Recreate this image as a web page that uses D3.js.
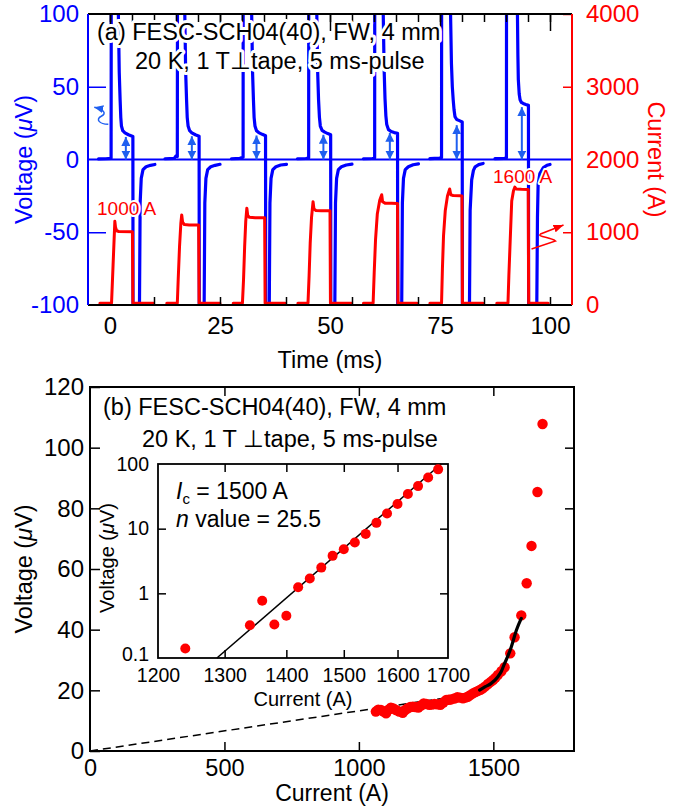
<!DOCTYPE html>
<html><head><meta charset="utf-8">
<script src="https://cdn.jsdelivr.net/npm/d3@7"></script>
<style>
body{margin:0;background:#fff;}
svg{display:block;font-family:"Liberation Sans",Arial,Helvetica,sans-serif;}
</style></head><body>
<svg id="chart" width="689" height="807"></svg>
<script>
// ---------------- DATA: panel (a) ----------------
const timeTicks = [0, 25, 50, 75, 100];
const voltageTicks = [-100, -50, 0, 50, 100];
const currentTicks = [0, 1000, 2000, 3000, 4000];

// voltage traces [time ms, voltage uV] (values beyond +-100 are off scale)
const voltageTraces = [
 [[-2.6,0.4],[-1.0,0.5],[0.25,0.8],[0.35,300],[1.75,300],[1.9,100],[2.1,60],[2.3,41],[2.45,29],[2.6,23],[2.9,19.8],[3.4,18.3],[4.2,17],[5.2,15.8],[5.3,-300],[6.6,-300],[6.7,-100],[6.85,-30],[7.1,-13],[7.5,-7],[8.2,-5],[9.2,-4],[10.2,-3.4]],
 [[12.5,0.5],[14.6,0.8],[15.0,2.5],[15.3,2],[15.4,300],[16.85,300],[17.0,100],[17.2,60],[17.4,41],[17.55,29],[17.75,23],[18.1,19.8],[18.6,18.3],[19.4,17],[20.25,16],[20.35,-300],[21.3,-300],[21.4,-100],[21.55,-30],[21.8,-13],[22.2,-7],[22.9,-5],[23.9,-4],[25,-3.3]],
 [[27.6,0.5],[29.5,0.8],[30.25,1.5],[30.3,300],[32.05,300],[32.2,100],[32.4,60],[32.6,41],[32.75,29],[32.95,23],[33.3,19.8],[33.8,18.5],[34.6,17.3],[35.35,16.3],[35.45,-300],[36.1,-300],[36.2,-100],[36.35,-30],[36.6,-13],[37,-7],[37.7,-5],[38.8,-3.8],[40.1,-3.3]],
 [[42.6,0.5],[44.5,0.7],[45.15,1],[45.2,300],[46.85,300],[47,100],[47.2,60],[47.4,41],[47.6,29],[47.8,23],[48.2,20],[48.8,18.8],[49.5,17.8],[50.15,17],[50.25,-300],[51,-300],[51.1,-100],[51.25,-30],[51.5,-13],[51.9,-7],[52.6,-5],[53.7,-3.8],[55,-3.2]],
 [[57.6,0.5],[59.6,0.7],[60.15,1],[60.2,300],[61.95,300],[62.1,100],[62.3,62],[62.5,42],[62.7,30],[62.9,24],[63.3,20.5],[63.9,19.2],[64.6,18.5],[65.35,18],[65.45,-300],[66.2,-300],[66.3,-100],[66.45,-30],[66.7,-13],[67.1,-7],[67.8,-5],[68.9,-3.6],[70.1,-3]],
 [[72.7,0.6],[74.8,1],[75.35,1.2],[75.4,300],[77.25,300],[77.4,100],[77.6,66],[77.8,50],[78,41],[78.2,34],[78.4,29.5],[78.8,27.5],[79.4,26.7],[80.05,25.8],[80.15,-300],[81.6,-300],[81.7,-100],[81.85,-35],[82.2,-14],[82.6,-7.5],[83,-5],[83.8,-3.5],[84.8,-2.7]],
 [[87.5,0.6],[89.6,0.8],[90.1,1],[90.15,300],[92.45,300],[92.6,100],[92.7,72],[92.8,55],[93,45],[93.2,41],[93.5,39.2],[93.9,38.5],[94.5,37.8],[95.1,37.2],[95.2,-300],[96.9,-300],[97,-100],[97.15,-40],[97.3,-17],[97.7,-9.6],[98.5,-5.5],[99.3,-4],[100,-3.4]]
];

// current traces [time ms, current A]
const currentTraces = [
 [[-2.3,25],[0.35,25],[0.7,550],[1.1,1150],[1.25,1070],[1.5,1020],[2,1010],[5.1,1008],[5.2,25],[9.9,25]],
 [[12.9,25],[15.3,25],[15.5,350],[15.8,800],[16.1,1120],[16.3,1237],[16.5,1140],[16.9,1105],[18,1100],[20.15,1098],[20.25,25],[25,25]],
 [[28,25],[30.1,25],[30.35,350],[30.6,800],[30.85,1150],[31.1,1330],[31.3,1230],[31.7,1205],[33,1200],[35.15,1198],[35.25,25],[39.8,25]],
 [[42.7,25],[45,25],[45.25,400],[45.5,850],[45.8,1200],[46.15,1420],[46.35,1320],[46.8,1300],[48,1296],[50.0,1295],[50.1,25],[54.9,25]],
 [[57.6,25],[59.8,25],[60.05,450],[60.35,900],[60.75,1250],[61.3,1440],[61.75,1515],[61.95,1420],[62.5,1400],[64,1398],[65.35,1395],[65.45,25],[69.8,25]],
 [[72.7,25],[75.35,25],[75.55,500],[75.8,950],[76.2,1300],[76.7,1500],[77.2,1595],[77.45,1515],[78,1505],[79.5,1503],[80,1500],[80.1,25],[84.8,25]],
 [[87.9,25],[90.45,25],[90.65,400],[90.9,800],[91.3,1430],[91.7,1570],[92,1620],[92.3,1595],[93.5,1590],[95.05,1588],[95.15,25],[99.6,25]]
];

// double arrows marking the plateau voltage of each pulse
const arrowTimes = [3.6, 18.6, 33.3, 48.5, 63.6, 78.8, 93.6];
const arrowVoltages = [15.5, 16, 16.5, 17, 18.3, 23.6, 36];

// ---------------- DATA: panel (b) ----------------
const ivXTicks = [0, 500, 1000, 1500];
const ivYTicks = [0, 20, 40, 60, 80, 100, 120];
const ivCurrent = [1063,1072,1082,1092,1101,1110,1119,1128,1138,1150,1163,1172,1182,1191,1200,1210,1221,1231,1241,1251,1262,1271,1281,1292,1303,1314,1325,1334,1343,1355,1366,1376,1387,1396,1405,1414,1424,1433,1443,1452,1461,1470,1480,1490,1499,1508,1517,1530,1542,1563,1579,1604,1624,1642,1664,1683];
const ivVoltage = [13.0,13.6,13.5,13.0,12.4,13.6,14.3,14.0,13.5,13.0,12.6,13.5,14.1,14.5,14.6,14.5,14.3,15.0,15.7,15.5,15.2,15.3,15.5,15.4,15.2,16.0,16.8,16.9,17.0,17.3,17.7,17.6,17.4,17.6,17.9,18.4,19.0,19.4,19.8,20.2,20.7,21.3,22.1,22.8,23.4,24.2,25.1,26.3,27.6,32.2,37.5,44.7,55.3,67.6,85.4,107.8];
const offsetLine = [[0, 0], [1450, 19.2]];
const fitCurve = [[1449,20.1],[1470,21.2],[1492,22.3],[1517,24.5],[1530,26.3],[1542,28.9],[1555,31.5],[1567,34.4],[1586,39.9],[1604,43.7]];

const insetXTicks = [1200, 1300, 1400, 1500, 1600, 1700];
const insetYTicks = [0.1, 1, 10, 100];
const insetCurrent = [1240,1340,1360,1380,1400,1420,1440,1460,1480,1500,1520,1540,1560,1580,1600,1620,1640,1660,1680];
const insetVoltage = [0.14,0.32,0.77,0.33,0.45,1.24,1.7,2.5,3.8,4.8,6.1,8.3,12.3,17.2,24,34.3,45.5,62,82.6];
const insetFit = [[1288, 0.1], [1686, 100]];

// ---------------- DRAWING ----------------
const BLUE = "#0000ff", RED = "#ff0000", ABLUE = "#1f5ff0", BLACK = "#000";
const svg = d3.select("#chart");
const defs = svg.append("defs");

function marker(id, color, w, l) {
  defs.append("marker").attr("id", id).attr("viewBox", `0 ${-w} ${l} ${2*w}`)
    .attr("refX", l).attr("refY", 0).attr("markerUnits", "userSpaceOnUse")
    .attr("markerWidth", l).attr("markerHeight", 2*w).attr("orient", "auto-start-reverse")
    .append("path").attr("d", `M0,${-w}L${l},0L0,${w}Z`).attr("fill", color);
}
marker("mBlue", ABLUE, 4.5, 9);
marker("mCurlB", ABLUE, 4, 9);
marker("mCurlR", RED, 4, 10);

// ===== Panel (a) =====
const A = {l: 88, r: 572, t: 14, b: 305};
const xT = d3.scaleLinear().domain([-5, 105]).range([A.l, A.r]);
const yV = d3.scaleLinear().domain([-100, 100]).range([A.b, A.t]);
const yI = d3.scaleLinear().domain([0, 4000]).range([A.b, A.t]);

defs.append("clipPath").attr("id", "clipA").append("rect")
  .attr("x", A.l).attr("y", A.t).attr("width", A.r - A.l).attr("height", A.b - A.t);

const ga = svg.append("g");
const clipA = ga.append("g").attr("clip-path", "url(#clipA)");
clipA.append("line").attr("x1", A.l).attr("x2", A.r).attr("y1", yV(0)).attr("y2", yV(0))
  .attr("stroke", BLUE).attr("stroke-width", 2);

const lineV = d3.line().x(d => xT(d[0])).y(d => yV(d[1]));
const lineI = d3.line().x(d => xT(d[0])).y(d => yI(d[1]));
clipA.selectAll(".vt").data(voltageTraces).join("path").attr("class", "vt")
  .attr("d", lineV).attr("fill", "none").attr("stroke", BLUE).attr("stroke-width", 3.2)
  .attr("stroke-linejoin", "round").attr("stroke-linecap", "round");
clipA.selectAll(".it").data(currentTraces).join("path").attr("class", "it")
  .attr("d", lineI).attr("fill", "none").attr("stroke", RED).attr("stroke-width", 3)
  .attr("stroke-linejoin", "round").attr("stroke-linecap", "round");

// double arrows
ga.selectAll(".da").data(arrowTimes).join("line").attr("class", "da")
  .attr("x1", d => xT(d)).attr("x2", d => xT(d))
  .attr("y1", yV(0)).attr("y2", (d, i) => yV(arrowVoltages[i]))
  .attr("stroke", ABLUE).attr("stroke-width", 2)
  .attr("marker-start", "url(#mBlue)").attr("marker-end", "url(#mBlue)");

// axes (a)
function noDomain(g) { g.select(".domain").remove(); }
ga.append("g").attr("transform", `translate(0,${A.t})`)
  .call(d3.axisTop(xT).tickValues(d3.range(0, 101, 5)).tickSize(-8).tickFormat(""))
  .call(noDomain).selectAll("line").attr("stroke", BLACK).attr("stroke-width", 1.5);
ga.append("g").attr("transform", `translate(0,${A.t})`)
  .call(d3.axisTop(xT).tickValues(timeTicks).tickSize(-17).tickFormat(""))
  .call(noDomain).selectAll("line").attr("stroke", BLACK).attr("stroke-width", 1.5);
ga.append("g").attr("transform", `translate(0,${A.b})`)
  .call(d3.axisBottom(xT).tickValues(d3.range(10, 101, 15)).tickSize(-8).tickFormat(""))
  .call(noDomain).selectAll("line").attr("stroke", BLACK).attr("stroke-width", 1.5);
const axB = ga.append("g").attr("transform", `translate(0,${A.b})`)
  .call(d3.axisBottom(xT).tickValues(timeTicks).tickSize(0).tickPadding(12).tickFormat(d => String(d)))
  .call(noDomain);
axB.selectAll("text").attr("font-size", 24).attr("fill", BLACK).attr("font-family", null);

ga.append("g").attr("transform", `translate(${A.l},0)`)
  .call(d3.axisLeft(yV).tickValues([-50, 50]).tickSize(-18).tickFormat(""))
  .call(noDomain).selectAll("line").attr("stroke", BLUE).attr("stroke-width", 1.5);
const axL = ga.append("g").attr("transform", `translate(${A.l},0)`)
  .call(d3.axisLeft(yV).tickValues(voltageTicks).tickSize(0).tickPadding(9).tickFormat(d => String(d)))
  .call(noDomain);
axL.selectAll("text").attr("font-size", 24).attr("fill", BLUE).attr("font-family", null);

ga.append("g").attr("transform", `translate(${A.r},0)`)
  .call(d3.axisRight(yI).tickValues([1000, 3000, 4000]).tickSize(-9).tickFormat(""))
  .call(noDomain).selectAll("line").attr("stroke", RED).attr("stroke-width", 1.5);
const axR = ga.append("g").attr("transform", `translate(${A.r},0)`)
  .call(d3.axisRight(yI).tickValues(currentTicks).tickSize(0).tickPadding(14).tickFormat(d => String(d)))
  .call(noDomain);
axR.selectAll("text").attr("font-size", 24).attr("fill", RED).attr("font-family", null);

// borders
ga.append("line").attr("x1", A.l).attr("x2", A.r).attr("y1", A.t).attr("y2", A.t).attr("stroke", BLACK).attr("stroke-width", 2);
ga.append("line").attr("x1", A.l).attr("x2", A.r).attr("y1", A.b).attr("y2", A.b).attr("stroke", BLACK).attr("stroke-width", 2);
ga.append("line").attr("x1", A.l).attr("x2", A.l).attr("y1", A.t).attr("y2", A.b).attr("stroke", BLUE).attr("stroke-width", 2);
ga.append("line").attr("x1", A.r).attr("x2", A.r).attr("y1", A.t).attr("y2", A.b).attr("stroke", RED).attr("stroke-width", 2);

// curly annotation arrows
const bTip = [xT(-3.8), yV(36.6)];
ga.append("path").attr("transform", `translate(${bTip[0]},${bTip[1]})`)
  .attr("d", "M15,18 C6,18 2,13 8,10 C14,7 10,3 1,1")
  .attr("fill", "none").attr("stroke", ABLUE).attr("stroke-width", 1.5).attr("marker-end", "url(#mCurlB)");
const rTip = [xT(103.3), yI(1100)];
ga.append("path").attr("transform", `translate(${rTip[0]},${rTip[1]})`)
  .attr("d", "M-33,24 L-9,16 C-14,12 -28,12 -24,9 L-1,0")
  .attr("fill", "none").attr("stroke", RED).attr("stroke-width", 1.5).attr("marker-end", "url(#mCurlR)");

// text (a)
function halo(sel, w) { return sel.attr("stroke", "#fff").attr("stroke-width", w).attr("paint-order", "stroke").attr("stroke-linejoin", "round"); }
halo(ga.append("text").attr("x", 97).attr("y", 40).attr("font-size", 23.5).attr("fill", BLACK)
  .text("(a) FESC-SCH04(40), FW, 4 mm"), 6);
halo(ga.append("text").attr("x", 135).attr("y", 69).attr("font-size", 23.5).attr("fill", BLACK)
  .text("20 K, 1 T\u22A5tape, 5 ms-pulse"), 6);
halo(ga.append("text").attr("x", 97).attr("y", 215).attr("font-size", 19).attr("fill", RED).text("1000 A"), 4);
halo(ga.append("text").attr("x", 493).attr("y", 183).attr("font-size", 19).attr("fill", RED).text("1600 A"), 4);

ga.append("text").attr("x", 330).attr("y", 368).attr("text-anchor", "middle").attr("font-size", 23.5)
  .attr("fill", BLACK).text("Time (ms)");
const vlab = ga.append("text").attr("transform", `translate(32,${(A.t + A.b) / 2}) rotate(-90)`)
  .attr("text-anchor", "middle").attr("font-size", 23.5).attr("fill", BLUE);
vlab.append("tspan").text("Voltage (");
vlab.append("tspan").attr("font-style", "italic").text("\u03BC");
vlab.append("tspan").text("V)");
ga.append("text").attr("transform", `translate(648,${(A.t + A.b) / 2}) rotate(90)`)
  .attr("text-anchor", "middle").attr("font-size", 23.5).attr("fill", RED).text("Current (A)");

// ===== Panel (b) =====
const B = {l: 90, r: 574, t: 387, b: 751};
const xB = d3.scaleLinear().domain([0, 1800]).range([B.l, B.r]);
const yB = d3.scaleLinear().domain([0, 120]).range([B.b, B.t]);
const gb = svg.append("g");

gb.append("g").attr("transform", `translate(0,${B.b})`)
  .call(d3.axisBottom(xB).tickValues([500, 1000, 1500]).tickSize(-9).tickFormat(""))
  .call(noDomain).selectAll("line").attr("stroke", BLACK).attr("stroke-width", 1.5);
gb.append("g").attr("transform", `translate(0,${B.t})`)
  .call(d3.axisTop(xB).tickValues([500, 1000, 1500]).tickSize(-9).tickFormat(""))
  .call(noDomain).selectAll("line").attr("stroke", BLACK).attr("stroke-width", 1.5);
gb.append("g").attr("transform", `translate(${B.l},0)`)
  .call(d3.axisLeft(yB).tickValues(ivYTicks).tickSize(-10).tickFormat(""))
  .call(noDomain).selectAll("line").attr("stroke", BLACK).attr("stroke-width", 1.5);
gb.append("g").attr("transform", `translate(${B.r},0)`)
  .call(d3.axisRight(yB).tickValues([20, 40, 60, 80, 100]).tickSize(-9).tickFormat(""))
  .call(noDomain).selectAll("line").attr("stroke", BLACK).attr("stroke-width", 1.5);
const bxl = gb.append("g").attr("transform", `translate(0,${B.b})`)
  .call(d3.axisBottom(xB).tickValues(ivXTicks).tickSize(0).tickPadding(8).tickFormat(d => String(d)))
  .call(noDomain);
bxl.selectAll("text").attr("font-size", 23.5).attr("fill", BLACK).attr("font-family", null);
const byl = gb.append("g").attr("transform", `translate(${B.l},0)`)
  .call(d3.axisLeft(yB).tickValues(ivYTicks).tickSize(0).tickPadding(6).tickFormat(d => String(d)))
  .call(noDomain);
byl.selectAll("text").attr("font-size", 24).attr("fill", BLACK).attr("font-family", null);
gb.append("rect").attr("x", B.l).attr("y", B.t).attr("width", B.r - B.l).attr("height", B.b - B.t)
  .attr("fill", "none").attr("stroke", BLACK).attr("stroke-width", 2);

const lineB = d3.line().x(d => xB(d[0])).y(d => yB(d[1]));
gb.append("path").attr("d", lineB(offsetLine)).attr("fill", "none").attr("stroke", BLACK)
  .attr("stroke-width", 1.5).attr("stroke-dasharray", "8,5");
gb.selectAll(".ivp").data(ivCurrent).join("circle").attr("class", "ivp")
  .attr("cx", d => xB(d)).attr("cy", (d, i) => yB(ivVoltage[i])).attr("r", 5.2).attr("fill", RED);
gb.append("path").attr("d", lineB.curve(d3.curveMonotoneX)(fitCurve)).attr("fill", "none").attr("stroke", BLACK)
  .attr("stroke-width", 3.2).attr("stroke-linecap", "round");

gb.append("text").attr("x", 103).attr("y", 415).attr("font-size", 23.5).attr("fill", BLACK)
  .text("(b) FESC-SCH04(40), FW, 4 mm");
gb.append("text").attr("x", 142).attr("y", 447).attr("font-size", 23.5).attr("fill", BLACK)
  .text("20 K, 1 T \u22A5tape, 5 ms-pulse");
gb.append("text").attr("x", (B.l + B.r) / 2).attr("y", 801).attr("text-anchor", "middle")
  .attr("font-size", 23).attr("fill", BLACK).text("Current (A)");
const vlb = gb.append("text").attr("transform", `translate(32,${(B.t + B.b) / 2}) rotate(-90)`)
  .attr("text-anchor", "middle").attr("font-size", 23.5).attr("fill", BLACK);
vlb.append("tspan").text("Voltage (");
vlb.append("tspan").attr("font-style", "italic").text("\u03BC");
vlb.append("tspan").text("V)");

// ===== Inset =====
const C = {l: 158, r: 448, t: 464, b: 658};
const xC = d3.scaleLog().domain([1200, 1700]).range([C.l, C.r]);
const yC = d3.scaleLog().domain([0.1, 100]).range([C.b, C.t]);
const gc = svg.append("g");
gc.append("rect").attr("x", C.l).attr("y", C.t).attr("width", C.r - C.l).attr("height", C.b - C.t)
  .attr("fill", "#fff").attr("stroke", "none");
gc.append("g").attr("transform", `translate(0,${C.b})`)
  .call(d3.axisBottom(xC).tickValues([1300, 1400, 1500, 1600]).tickSize(-8).tickFormat(""))
  .call(noDomain).selectAll("line").attr("stroke", BLACK).attr("stroke-width", 1.5);
gc.append("g").attr("transform", `translate(0,${C.t})`)
  .call(d3.axisTop(xC).tickValues([1300, 1400, 1500, 1600]).tickSize(-8).tickFormat(""))
  .call(noDomain).selectAll("line").attr("stroke", BLACK).attr("stroke-width", 1.5);
gc.append("g").attr("transform", `translate(${C.l},0)`)
  .call(d3.axisLeft(yC).tickValues([1, 10]).tickSize(-8).tickFormat(""))
  .call(noDomain).selectAll("line").attr("stroke", BLACK).attr("stroke-width", 1.5);
gc.append("g").attr("transform", `translate(${C.r},0)`)
  .call(d3.axisRight(yC).tickValues([1, 10]).tickSize(-8).tickFormat(""))
  .call(noDomain).selectAll("line").attr("stroke", BLACK).attr("stroke-width", 1.5);
const cxl = gc.append("g").attr("transform", `translate(0,${C.b})`)
  .call(d3.axisBottom(xC).tickValues(insetXTicks).tickSize(0).tickPadding(10).tickFormat(d => String(d)))
  .call(noDomain);
cxl.selectAll("text").attr("font-size", 19.5).attr("fill", BLACK).attr("font-family", null);
const cyl = gc.append("g").attr("transform", `translate(${C.l},0)`)
  .call(d3.axisLeft(yC).tickValues(insetYTicks).tickSize(0).tickPadding(9).tickFormat(d => String(d)))
  .call(noDomain);
cyl.selectAll("text").attr("font-size", 19.5).attr("fill", BLACK).attr("font-family", null)
  .attr("dy", d => d === 0.1 ? "0.15em" : "0.32em");
gc.append("rect").attr("x", C.l).attr("y", C.t).attr("width", C.r - C.l).attr("height", C.b - C.t)
  .attr("fill", "none").attr("stroke", BLACK).attr("stroke-width", 1.8);

const lineC = d3.line().x(d => xC(d[0])).y(d => yC(d[1]));
gc.append("path").attr("d", lineC(insetFit)).attr("fill", "none").attr("stroke", BLACK).attr("stroke-width", 1.5);
gc.selectAll(".inp").data(insetCurrent).join("circle").attr("class", "inp")
  .attr("cx", d => xC(d)).attr("cy", (d, i) => yC(insetVoltage[i])).attr("r", 5).attr("fill", RED);

const ic = gc.append("text").attr("x", 176).attr("y", 499).attr("font-size", 23).attr("fill", BLACK);
ic.append("tspan").attr("font-style", "italic").text("I");
ic.append("tspan").attr("font-size", 15).attr("dy", 5).text("c");
ic.append("tspan").attr("dy", -5).text(" = 1500 A");
const nv = gc.append("text").attr("x", 176).attr("y", 527).attr("font-size", 23).attr("fill", BLACK);
nv.append("tspan").attr("font-style", "italic").text("n");
nv.append("tspan").text(" value = 25.5");

gc.append("text").attr("x", (C.l + C.r) / 2).attr("y", 706).attr("text-anchor", "middle")
  .attr("font-size", 20).attr("fill", BLACK).text("Current (A)");
const vli = gc.append("text").attr("transform", `translate(114,558) rotate(-90)`)
  .attr("text-anchor", "middle").attr("font-size", 20).attr("fill", BLACK);
vli.append("tspan").text("Voltage (");
vli.append("tspan").attr("font-style", "italic").text("\u03BC");
vli.append("tspan").text("V)");
</script>
</body></html>
